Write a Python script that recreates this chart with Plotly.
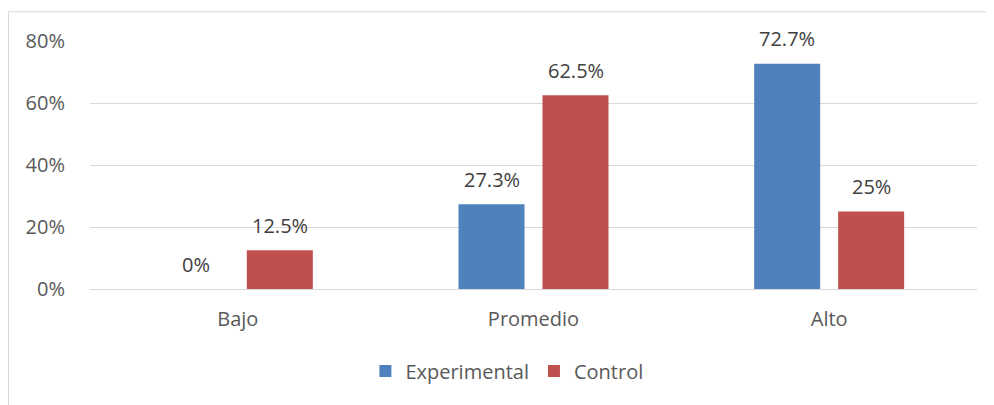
import plotly.graph_objects as go

categories = ["Bajo", "Promedio", "Alto"]
experimental = [0, 27.3, 72.7]
control = [12.5, 62.5, 25]
series_names = ["Experimental", "Control"]
tick_values = [0, 20, 40, 60, 80]
tick_labels = ["0%", "20%", "40%", "60%", "80%"]

colors = ["#4F81BD", "#C0504D"]
font_family = "'Open Sans', sans-serif"

fig = go.Figure()
for name, vals, col in zip(series_names, [experimental, control], colors):
    fig.add_trace(go.Bar(
        x=categories, y=vals, name=name,
        marker=dict(color=col, line=dict(width=0)),
        hoverinfo="x+y+name",
    ))

annotations = []
for i, vals in enumerate([experimental, control]):
    shift = -42 if i == 0 else 42
    for c, v in zip(categories, vals):
        annotations.append(dict(
            x=c, y=v, xref="x", yref="y", text=f"{v:g}%",
            showarrow=False, xshift=shift, yshift=25,
            font=dict(family=font_family, size=20, color="#404040"),
        ))

fig.update_layout(
    width=986, height=397,
    margin=dict(l=82, r=17, t=33, b=116),
    paper_bgcolor="white", plot_bgcolor="white",
    barmode="group", bargap=0.432, bargroupgap=0.214,
    font=dict(family=font_family, size=20, color="#595959"),
    showlegend=True,
    legend=dict(orientation="h", x=0.470, xanchor="center", y=-0.331, yanchor="middle",
                font=dict(size=20, color="#595959"),
                traceorder="normal"),
    annotations=annotations,
    shapes=[dict(type="rect", xref="paper", yref="paper",
                 x0=-0.0919, x1=1.05, y0=-0.6, y1=1.118,
                 line=dict(color="#D9D9D9", width=1), fillcolor="rgba(0,0,0,0)", layer="below")],
)
fig.update_xaxes(showgrid=False, showline=False, ticks="", ticklabelstandoff=16,
                 tickfont=dict(size=20, color="#595959"))
fig.update_yaxes(range=[0, 80], tickvals=tick_values, ticktext=tick_labels,
                 showgrid=True, gridcolor="#D9D9D9", gridwidth=1.3,
                 zeroline=True, zerolinecolor="#D9D9D9", zerolinewidth=1.3,
                 showline=False, ticks="", ticklabelstandoff=24,
                 tickfont=dict(size=20, color="#595959"))

fig.write_html("out.html")
